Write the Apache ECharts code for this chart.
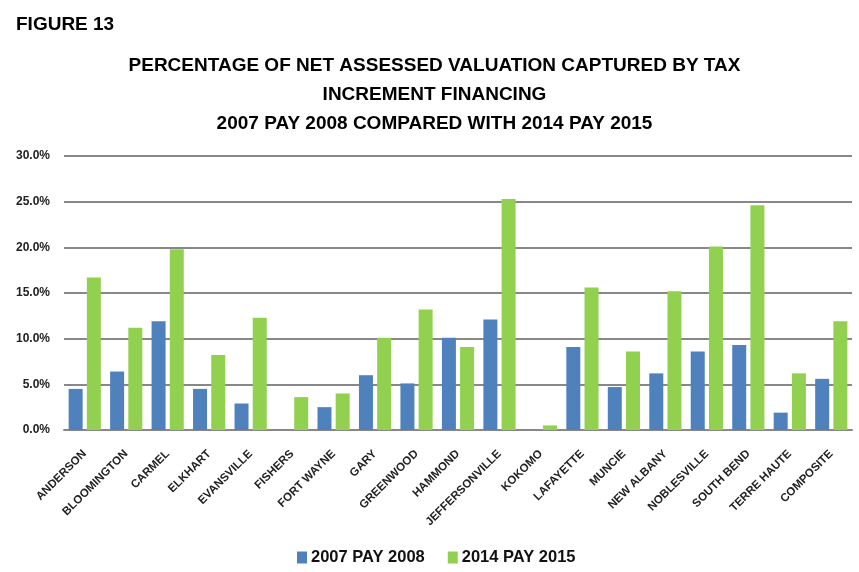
<!DOCTYPE html>
<html>
<head>
<meta charset="utf-8">
<script src="https://cdn.jsdelivr.net/npm/echarts@6/dist/echarts.min.js"></script>
<style>
  html, body { margin: 0; padding: 0; background: #fff; }
  #chart { width: 859px; height: 572px; }
</style>
</head>
<body>
<div id="chart"></div>
<script>
// cities / composite
let cities = ['ANDERSON', 'BLOOMINGTON', 'CARMEL', 'ELKHART', 'EVANSVILLE', 'FISHERS', 'FORT WAYNE',
    'GARY', 'GREENWOOD', 'HAMMOND', 'JEFFERSONVILLE', 'KOKOMO', 'LAFAYETTE', 'MUNCIE',
    'NEW ALBANY', 'NOBLESVILLE', 'SOUTH BEND', 'TERRE HAUTE', 'COMPOSITE']
// percent values
let pay2008 = [4.5, 6.4, 11.9, 4.5, 2.9, 0, 2.5, 6.0, 5.1, 10.1, 12.1, 0, 9.1, 4.7, 6.2, 8.6, 9.3, 1.9, 5.6]
let pay2015 = [16.7, 11.2, 19.8, 8.2, 12.3, 3.6, 4.0, 10.1, 13.2, 9.1, 25.3, 0.5, 15.6, 8.6, 15.2, 20.1, 24.6, 6.2, 11.9]
let yTicks = [0, 5, 10, 15, 20, 25, 30]

let font = '"Liberation Sans", Arial, sans-serif'

echarts.init(document.querySelector('#chart')).setOption({
    animation: false,
    title: [{
        text: 'FIGURE 13',
        left: 11,
        top: 10,
        textStyle: { fontFamily: font, fontSize: 19, fontWeight: 'bold', color: '#000' }
    }, {
        text: 'PERCENTAGE OF NET ASSESSED VALUATION CAPTURED BY TAX\nINCREMENT FINANCING\n2007 PAY 2008 COMPARED WITH 2014 PAY 2015',
        left: '50%',
        top: 46,
        textAlign: 'center',
        textStyle: { fontFamily: font, fontSize: 19, fontWeight: 'bold', color: '#000', lineHeight: 29 }
    }],
    legend: {
        top: 544,
        left: 292,
        icon: 'rect',
        itemWidth: 10,
        itemHeight: 12,
        itemGap: 23,
        textStyle: { fontFamily: font, fontSize: 16.5, fontWeight: 'bold', color: '#111', padding: [0, 0, 0, -1] }
    },
    grid: { left: 64, right: 7, top: 156, bottom: 142 },
    xAxis: {
        type: 'category',
        data: cities,
        axisLine: { lineStyle: { color: '#888', width: 2 } },
        axisTick: { show: false },
        axisLabel: {
            interval: 0,
            rotate: 45,
            margin: 22,
            fontFamily: font,
            fontSize: 11.5,
            fontWeight: 'bold',
            color: '#222'
        }
    },
    yAxis: {
        type: 'value',
        min: yTicks[0],
        max: yTicks[yTicks.length - 1],
        interval: 5,
        axisLine: { show: false },
        axisTick: { show: false },
        splitLine: { lineStyle: { color: '#888', width: 2 } },
        axisLabel: {
            margin: 14,
            fontFamily: font,
            fontSize: 12,
            fontWeight: 'bold',
            color: '#222',
            formatter: v => v.toFixed(1) + '%'
        }
    },
    series: [{
        name: '2007 PAY 2008',
        type: 'bar',
        data: pay2008,
        barWidth: 14,
        barGap: '30%',
        itemStyle: { color: '#4F81BD' }
    }, {
        name: '2014 PAY 2015',
        type: 'bar',
        data: pay2015,
        barWidth: 14,
        itemStyle: { color: '#92D050' }
    }]
});
</script>
</body>
</html>
